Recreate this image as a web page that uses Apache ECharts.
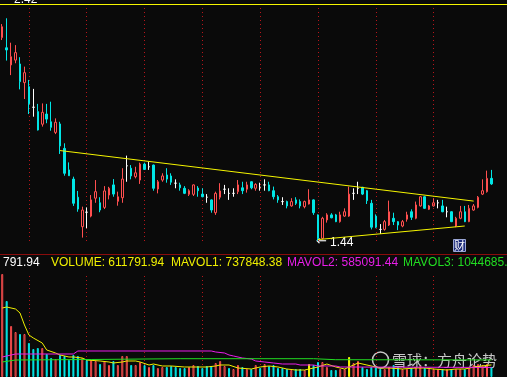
<!DOCTYPE html>
<html>
<head>
<meta charset="utf-8">
<style>
  html, body { margin: 0; padding: 0; background: #0a0a0a; }
  #chart { width: 507px; height: 377px; }
</style>
<script src="https://cdn.jsdelivr.net/npm/echarts@6/dist/echarts.min.js"></script>
</head>
<body>
<div id="chart"></div>
<script>
// daily candles: [open, close, low, high]
const candles = [
  [2.281, 2.326, 2.271, 2.337], [2.239, 2.230, 2.186, 2.361], [2.168, 2.202, 2.126, 2.260], [2.188, 2.219, 2.175, 2.250],
  [2.172, 2.099, 2.067, 2.200], [2.095, 2.136, 2.027, 2.161], [2.078, 2.007, 1.965, 2.106], [1.993, 1.993, 1.954, 2.069],
  [1.975, 1.899, 1.897, 2.007], [1.923, 1.972, 1.913, 2.009], [1.965, 1.944, 1.927, 2.007], [1.933, 1.910, 1.896, 2.016],
  [1.889, 1.931, 1.882, 1.947], [1.924, 1.833, 1.800, 1.933], [1.823, 1.720, 1.710, 1.844], [1.734, 1.710, 1.709, 1.765],
  [1.696, 1.596, 1.585, 1.706], [1.621, 1.572, 1.561, 1.647], [1.499, 1.568, 1.454, 1.582], [1.559, 1.559, 1.493, 1.579],
  [1.543, 1.610, 1.538, 1.630], [1.617, 1.644, 1.598, 1.692], [1.598, 1.568, 1.559, 1.621], [1.579, 1.647, 1.572, 1.667],
  [1.630, 1.658, 1.612, 1.664], [1.672, 1.634, 1.623, 1.696], [1.604, 1.623, 1.586, 1.644], [1.619, 1.696, 1.598, 1.741],
  [1.751, 1.751, 1.685, 1.793], [1.741, 1.709, 1.695, 1.754], [1.706, 1.722, 1.699, 1.747], [1.692, 1.758, 1.676, 1.764],
  [1.758, 1.736, 1.734, 1.764], [1.747, 1.747, 1.734, 1.768], [1.754, 1.658, 1.648, 1.756], [1.655, 1.685, 1.637, 1.692],
  [1.692, 1.709, 1.685, 1.720], [1.713, 1.696, 1.681, 1.741], [1.709, 1.683, 1.672, 1.720], [1.679, 1.679, 1.658, 1.695],
  [1.672, 1.660, 1.648, 1.681], [1.658, 1.637, 1.634, 1.667], [1.633, 1.648, 1.626, 1.654], [1.633, 1.672, 1.626, 1.674],
  [1.659, 1.648, 1.623, 1.667], [1.634, 1.623, 1.621, 1.658], [1.621, 1.621, 1.598, 1.634], [1.610, 1.568, 1.557, 1.612],
  [1.557, 1.637, 1.548, 1.644], [1.621, 1.647, 1.612, 1.679], [1.654, 1.654, 1.634, 1.672], [1.637, 1.637, 1.610, 1.658],
  [1.637, 1.637, 1.623, 1.658], [1.644, 1.672, 1.634, 1.692], [1.660, 1.648, 1.634, 1.685], [1.654, 1.672, 1.640, 1.685],
  [1.685, 1.660, 1.654, 1.687], [1.658, 1.674, 1.648, 1.679], [1.662, 1.662, 1.648, 1.681], [1.672, 1.672, 1.648, 1.695],
  [1.672, 1.648, 1.646, 1.685], [1.648, 1.623, 1.612, 1.665], [1.623, 1.610, 1.598, 1.630], [1.603, 1.603, 1.589, 1.621],
  [1.603, 1.585, 1.575, 1.607], [1.585, 1.603, 1.582, 1.617], [1.610, 1.596, 1.589, 1.621], [1.603, 1.585, 1.575, 1.612],
  [1.582, 1.603, 1.575, 1.607], [1.593, 1.610, 1.591, 1.654], [1.610, 1.557, 1.548, 1.612], [1.548, 1.451, 1.440, 1.550],
  [1.451, 1.534, 1.447, 1.540], [1.527, 1.548, 1.516, 1.555], [1.548, 1.536, 1.534, 1.555], [1.548, 1.520, 1.518, 1.552],
  [1.520, 1.548, 1.516, 1.561], [1.543, 1.561, 1.540, 1.575], [1.543, 1.634, 1.540, 1.665], [1.637, 1.637, 1.610, 1.658],
  [1.658, 1.658, 1.634, 1.685], [1.662, 1.634, 1.630, 1.664], [1.648, 1.607, 1.593, 1.651], [1.596, 1.497, 1.488, 1.610],
  [1.543, 1.497, 1.493, 1.550], [1.488, 1.488, 1.469, 1.510], [1.488, 1.520, 1.483, 1.527], [1.506, 1.561, 1.502, 1.607],
  [1.534, 1.520, 1.506, 1.557], [1.520, 1.506, 1.485, 1.522], [1.502, 1.520, 1.497, 1.527], [1.530, 1.548, 1.520, 1.561],
  [1.561, 1.538, 1.527, 1.571], [1.534, 1.589, 1.530, 1.603], [1.585, 1.623, 1.582, 1.626], [1.623, 1.575, 1.573, 1.625],
  [1.571, 1.585, 1.568, 1.589], [1.585, 1.598, 1.582, 1.617], [1.598, 1.598, 1.575, 1.610], [1.585, 1.561, 1.559, 1.610],
  [1.561, 1.561, 1.538, 1.582], [1.561, 1.520, 1.518, 1.563], [1.502, 1.534, 1.497, 1.540], [1.534, 1.561, 1.530, 1.585],
  [1.561, 1.520, 1.518, 1.585], [1.520, 1.575, 1.518, 1.589], [1.568, 1.585, 1.565, 1.593], [1.579, 1.621, 1.575, 1.626],
  [1.634, 1.648, 1.630, 1.695], [1.644, 1.699, 1.640, 1.731], [1.699, 1.676, 1.672, 1.734]
]

const volumes = [
  6301500, 4649700, 3120200, 2753100, 2630700, 2630700, 2080100, 1713000, 1774200, 1774200,
  1407100, 1162400, 1101200, 1346000, 1284800, 1040100, 1346000, 1284800, 1162400, 1040100,
  1040100, 978900, 795300, 978900, 734200, 978900, 734200, 1284800, 1284800, 734200,
  734200, 917700, 734200, 611800, 734200, 550600, 611800, 611800, 673000, 611800,
  550600, 550600, 611800, 734200, 673000, 550600, 673000, 673000, 856500, 978900,
  673000, 550600, 489400, 734200, 611800, 489400, 489400, 734200, 550600, 795300,
  673000, 734200, 550600, 550600, 489400, 428300, 489400, 489400, 428300, 795300,
  734200, 917700, 917700, 611800, 428300, 428300, 489400, 489400, 1223600, 856500,
  978900, 611800, 489400, 611800, 611800, 489400, 489400, 611800, 734200, 611800,
  489400, 489400, 550600, 611800, 673000, 550600, 489400, 489400, 489400, 489400,
  489400, 489400, 489400, 489400, 489400, 550600, 734200, 795300, 734200, 795300,
  611792
]

// days whose volume bar is drawn solid yellow
const flaggedVolDays = [69, 78]

// volume moving averages, read as [day, value]
const maVol1 = [[0, 4221000], [1, 4283000], [3, 4160000], [4, 3916000], [5, 3181000], [6, 2570000], [7, 2386000],
  [9, 2080000], [10, 1652000], [12, 1468000], [13, 1346000], [15, 1224000], [16, 1224000], [18, 1162000],
  [19, 1040000], [22, 979000], [24, 918000], [25, 857000], [27, 918000], [28, 979000], [30, 979000], [31, 918000],
  [33, 734000], [34, 795000], [36, 673000], [38, 673000], [41, 612000], [46, 612000], [48, 673000], [49, 734000],
  [51, 734000], [53, 551000], [56, 489000], [58, 612000], [60, 673000], [62, 612000], [64, 489000], [66, 428000],
  [68, 428000], [71, 612000], [73, 795000], [75, 612000], [77, 489000], [79, 734000], [80, 857000], [82, 734000],
  [85, 551000], [87, 551000], [90, 489000], [93, 551000], [95, 551000], [97, 489000], [100, 428000], [102, 489000],
  [104, 489000], [106, 600000], [108, 680000], [110, 737848]]
const maVol2 = [[0, 1224000], [2, 1346000], [3, 1407000], [16, 1407000], [17, 1591000], [47, 1591000], [48, 1530000],
  [50, 1468000], [51, 1346000], [52, 1285000], [54, 1162000], [56, 1101000], [57, 979000], [59, 918000],
  [61, 857000], [63, 795000], [66, 795000], [67, 734000], [70, 734000], [71, 673000], [75, 673000],
  [76, 612000], [110, 585091]]
const maVol3 = [[0, 918000], [3, 1040000], [20, 1071000], [40, 1120000], [70, 1120000], [75, 1058000], [110, 1044685]]

// dotted day markers and drawn trend lines
const markerDays = ['6', '19', '32', '45', '58', '71', '84', '97']
const upperTrend = [['13', 1.814], ['106', 1.605]]
const lowerTrend = [['71', 1.446], ['104', 1.502]]

const priceMax = 2.42
const priceMin = 1.44
const slotCount = 114
const days = Array.from({ length: slotCount }, (_, i) => String(i))

const headTexts = [
  { text: '791.94', color: '#ffffff', x: 3 },
  { text: 'VOLUME: 611791.94', color: '#f0f000', x: 51 },
  { text: 'MAVOL1: 737848.38', color: '#f0f000', x: 171 },
  { text: 'MAVOL2: 585091.44', color: '#e81ee8', x: 287 },
  { text: 'MAVOL3: 1044685.', color: '#22dd22', x: 403 }
]

const UP = '#ff4f4f'
const DOWN = '#00e6e6'
const DOJI = '#ffffff'
const FONT = '"Liberation Sans", Arial, sans-serif'

let candleData = candles.map(function (d) {
  if (d[0] === d[1]) {
    return { value: d, itemStyle: { color: DOJI, color0: DOJI, borderColor: DOJI, borderColor0: DOJI, borderColorDoji: DOJI } }
  }
  return d
})

let volData = volumes.map(function (v, i) {
  let o = candles[i][0], c = candles[i][1]
  let up = c > o || (c === o && i > 0 && c >= candles[i - 1][1])
  if (flaggedVolDays.indexOf(i) >= 0) {
    return { value: v, itemStyle: { color: '#ffff00', borderColor: '#ffff00' } }
  }
  if (up) {
    return { value: v, itemStyle: { color: 'transparent', borderColor: UP } }
  }
  return { value: v, itemStyle: { color: DOWN, borderColor: DOWN } }
})

let dotted = {
  silent: true,
  symbol: 'none',
  z: 1,
  animation: false,
  label: { show: false },
  lineStyle: { color: '#b8151a', type: [1, 3], width: 1 },
  data: markerDays.map(function (d) { return { xAxis: d } })
}

let chart = echarts.init(document.getElementById('chart'))
let option = {
  backgroundColor: '#0a0a0a',
  animation: false,
  grid: [
    { left: -2.44, right: -1, top: 4, height: 237 },
    { left: -2.44, right: -1, top: 274, height: 103 }
  ],
  xAxis: [
    { type: 'category', gridIndex: 0, data: days, show: false },
    { type: 'category', gridIndex: 1, data: days, show: false }
  ],
  yAxis: [
    { type: 'value', gridIndex: 0, min: priceMin, max: priceMax, show: false, splitLine: { show: false } },
    { type: 'value', gridIndex: 1, min: 0, max: Math.max.apply(null, volumes), show: false, splitLine: { show: false } }
  ],
  series: [
    {
      type: 'candlestick',
      xAxisIndex: 0,
      yAxisIndex: 0,
      barWidth: 2,
      data: candleData,
      itemStyle: {
        color: 'transparent',
        color0: DOWN,
        borderColor: UP,
        borderColor0: DOWN,
        borderWidth: 1
      },
      markLine: dotted
    },
    {
      // carrier for the hand-drawn lines on the price pane
      type: 'line',
      xAxisIndex: 0,
      yAxisIndex: 0,
      data: [],
      markLine: {
        silent: true,
        symbol: 'none',
        animation: false,
        label: { show: false },
        lineStyle: { color: '#f5f500', type: 'solid', width: 1 },
        data: [
          { yAxis: priceMax },
          [{ coord: upperTrend[0] }, { coord: upperTrend[1] }],
          [{ coord: lowerTrend[0] }, { coord: lowerTrend[1] }]
        ]
      }
    },
    {
      type: 'bar',
      xAxisIndex: 1,
      yAxisIndex: 1,
      barWidth: 2,
      data: volData,
      itemStyle: { borderWidth: 1 },
      markLine: dotted
    },
    {
      type: 'line', xAxisIndex: 1, yAxisIndex: 1, data: maVol1, showSymbol: false,
      lineStyle: { color: '#f0f000', width: 1 }
    },
    {
      type: 'line', xAxisIndex: 1, yAxisIndex: 1, data: maVol2, showSymbol: false,
      lineStyle: { color: '#e81ee8', width: 1 }
    },
    {
      type: 'line', xAxisIndex: 1, yAxisIndex: 1, data: maVol3, showSymbol: false,
      lineStyle: { color: '#22dd22', width: 1 }
    }
  ],
  graphic: [
    {
      type: 'line', silent: true,
      shape: { x1: 0, y1: 254.5, x2: 507, y2: 254.5 },
      style: { stroke: '#8a0c0c', lineWidth: 1 }
    },
    {
      type: 'text', x: 14, y: 0,
      style: { text: priceMax.toFixed(2), fill: '#ffffff', font: '12px ' + FONT, verticalAlign: 'middle' }
    },
    {
      type: 'text', x: 316, y: 242,
      style: { text: '\u2190', fill: '#ffffff', font: '13px "DejaVu Sans"', verticalAlign: 'middle' }
    },
    {
      type: 'text', x: 330, y: 242.5,
      style: { text: priceMin.toFixed(2), fill: '#ffffff', font: '12px ' + FONT, verticalAlign: 'middle' }
    },
    {
      type: 'rect', shape: { x: 453.5, y: 239.5, width: 12, height: 12 },
      style: { fill: '#1b2a7a', stroke: '#9aa6d6', lineWidth: 1 }
    },
    {
      type: 'text', x: 459.5, y: 245.5,
      style: { text: '财', fill: '#ffffff', font: '11px "Noto Sans CJK SC"', align: 'center', verticalAlign: 'middle' }
    },
    {
      type: 'circle', shape: { cx: 380.5, cy: 360, r: 8 },
      style: { fill: 'none', stroke: 'rgba(220,220,220,0.9)', lineWidth: 1.5 }
    },
    {
      type: 'text', x: 392, y: 360,
      style: { text: '雪球：方舟论势', fill: 'rgba(220,220,220,0.9)', font: '15px "Noto Sans CJK SC"', verticalAlign: 'middle' }
    }
  ].concat(headTexts.map(function (t) {
    return {
      type: 'text', x: t.x, y: 263,
      style: { text: t.text, fill: t.color, font: '12px ' + FONT, verticalAlign: 'middle' }
    }
  }))
}
chart.setOption(option)
</script>
</body>
</html>
